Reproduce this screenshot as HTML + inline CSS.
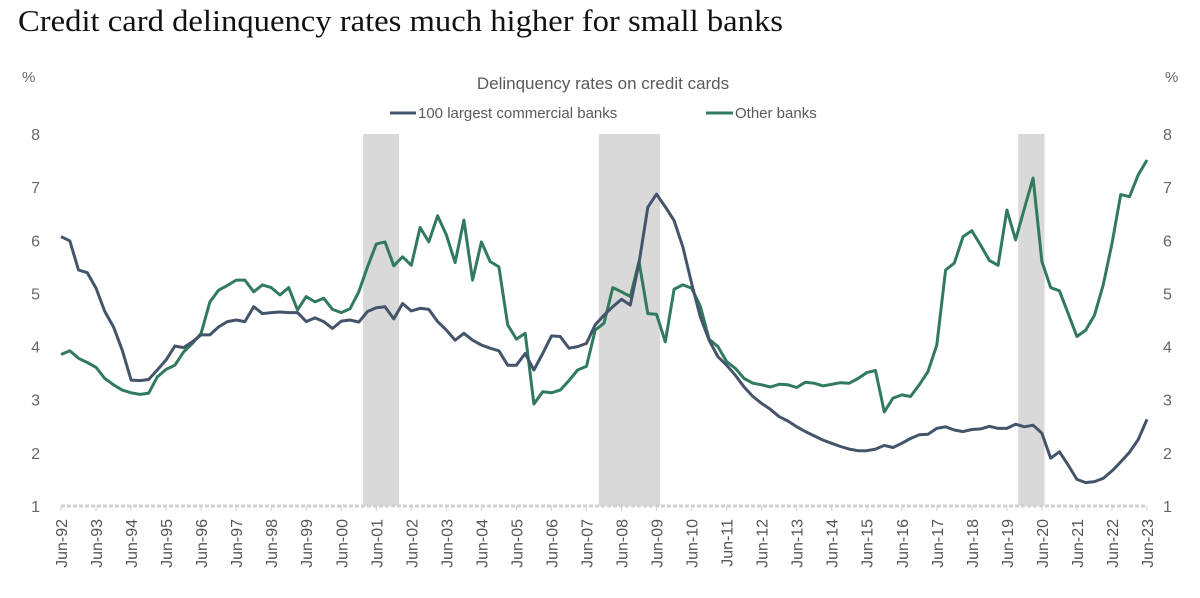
<!DOCTYPE html>
<html><head><meta charset="utf-8"><style>
body{margin:0;background:#fff;width:1200px;height:593px;overflow:hidden;font-family:"Liberation Sans",sans-serif}
</style></head><body>
<svg id="chart" width="1200" height="593" xmlns="http://www.w3.org/2000/svg">
<text x="18" y="31" font-family="Liberation Serif, serif" font-size="31" textLength="765" lengthAdjust="spacingAndGlyphs" fill="#111">Credit card delinquency rates much higher for small banks</text>
<text x="22" y="82" font-size="15" fill="#666">%</text>
<text x="1165" y="82" font-size="15" fill="#666">%</text>
<text x="603" y="89" text-anchor="middle" font-size="17" fill="#595959">Delinquency rates on credit cards</text>
<g>
<line x1="390" y1="113" x2="416" y2="113" stroke="#44546a" stroke-width="3"/>
<text x="418" y="118" font-size="15" fill="#595959">100 largest commercial banks</text>
<line x1="706" y1="113" x2="733" y2="113" stroke="#317a5e" stroke-width="3"/>
<text x="735" y="118" font-size="15" fill="#595959">Other banks</text>
</g>
<g id="rec"></g><g id="axes"></g><g id="lines"></g>
</svg>
<script>
const largeBanks=[6.07,5.99,5.44,5.39,5.10,4.66,4.37,3.93,3.37,3.36,3.38,3.56,3.75,4.01,3.98,4.09,4.22,4.22,4.37,4.47,4.50,4.47,4.75,4.62,4.64,4.65,4.64,4.64,4.47,4.54,4.47,4.34,4.48,4.50,4.46,4.66,4.73,4.75,4.52,4.81,4.67,4.72,4.70,4.47,4.31,4.12,4.25,4.12,4.03,3.97,3.92,3.65,3.65,3.87,3.56,3.87,4.20,4.19,3.97,4.0,4.06,4.41,
4.59,4.75,4.89,4.78,5.57,6.62,6.87,6.63,6.37,5.88,5.19,4.56,4.12,3.81,3.65,3.46,3.24,3.06,2.93,2.82,2.68,2.60,2.49,2.40,2.32,2.24,2.18,2.12,2.07,2.04,2.04,2.07,2.14,2.10,2.18,2.27,2.34,2.35,2.46,2.49,2.43,2.40,2.44,2.45,2.50,2.46,2.46,2.54,2.49,2.52,2.37,1.90,2.02,1.77,1.50,1.44,1.46,1.52,1.66,1.83,2.01,2.25,2.63];
const otherBanks=[3.85,3.92,3.78,3.70,3.61,3.40,3.28,3.18,3.13,3.10,3.12,3.43,3.57,3.65,3.90,4.06,4.25,4.84,5.06,5.15,5.25,5.25,5.03,5.16,5.11,4.97,5.11,4.69,4.94,4.84,4.91,4.70,4.64,4.71,5.03,5.50,5.93,5.97,5.52,5.69,5.53,6.24,5.97,6.46,6.10,5.58,6.38,5.25,5.97,5.60,5.50,4.41,4.14,4.25,2.92,3.15,3.13,3.18,3.36,3.56,3.63,4.31,
4.44,5.11,5.03,4.94,5.60,4.62,4.61,4.09,5.08,5.16,5.10,4.76,4.14,4.0,3.72,3.59,3.40,3.31,3.28,3.24,3.29,3.28,3.23,3.33,3.31,3.26,3.29,3.32,3.31,3.40,3.51,3.55,2.77,3.03,3.09,3.06,3.28,3.53,4.03,5.44,5.57,6.07,6.18,5.91,5.62,5.53,6.57,6.01,6.60,7.17,5.60,5.11,5.05,4.62,4.19,4.31,4.59,5.16,5.94,6.86,6.82,7.23,7.51];
const yTicks=[1,2,3,4,5,6,7,8];
const xLabels=["Jun-92","Jun-93","Jun-94","Jun-95","Jun-96","Jun-97","Jun-98","Jun-99","Jun-00","Jun-01","Jun-02","Jun-03","Jun-04","Jun-05","Jun-06","Jun-07","Jun-08","Jun-09","Jun-10","Jun-11","Jun-12","Jun-13","Jun-14","Jun-15","Jun-16","Jun-17","Jun-18","Jun-19","Jun-20","Jun-21","Jun-22","Jun-23"];
const recStart=[34.5,61.4,109.3];
const recEnd=[38.6,68.4,112.3];
const NS='http://www.w3.org/2000/svg';
const X0=61,X1=1147,Y0=506,Y1=134;
const N=largeBanks.length;
const xs=i=>X0+(X1-X0)*i/(N-1);
const ys=v=>Y0-(v-1)/(8-1)*(Y0-Y1);
function mk(t,a,p){const e=document.createElementNS(NS,t);for(const k in a)e.setAttribute(k,a[k]);p.appendChild(e);return e;}
const rec=document.getElementById('rec'),axes=document.getElementById('axes'),lines=document.getElementById('lines');
recStart.forEach((s,i)=>{const r=mk('rect',{x:xs(s),y:Y1,width:xs(recEnd[i])-xs(s),height:Y0-Y1,fill:'#d9d9d9'},rec);

});
yTicks.forEach(v=>{[[40,'end'],[1163,'start']].forEach(([x,a])=>{const t=mk('text',{x:x,y:ys(v)+6,'text-anchor':a,'font-size':16,fill:'#666'},axes);t.textContent=v;

});});
const ax=mk('line',{x1:X0,y1:Y0,x2:X1,y2:Y0,stroke:'#d0d0d0','stroke-width':3,'stroke-dasharray':'4 2'},axes);


xLabels.forEach((l,i)=>{const x=X0+(X1-X0)*i/(xLabels.length-1);
const tk=mk('line',{x1:x,y1:Y0,x2:x,y2:Y0+5,stroke:'#d0d0d0','stroke-width':1},axes);


const t=mk('text',{x:0,y:0,transform:`translate(${x+6},519) rotate(-90)`,'text-anchor':'end','font-size':16,fill:'#555'},axes);t.textContent=l;

});
function line(d,c,n){const p=mk('polyline',{points:d.map((v,i)=>xs(i).toFixed(1)+','+ys(v).toFixed(1)).join(' '),fill:'none',stroke:c,'stroke-width':3,'stroke-linejoin':'round'},lines);

}
line(otherBanks,'#317a5e','other-banks-line');
line(largeBanks,'#44546a','large-banks-line');
</script>
</body></html>
